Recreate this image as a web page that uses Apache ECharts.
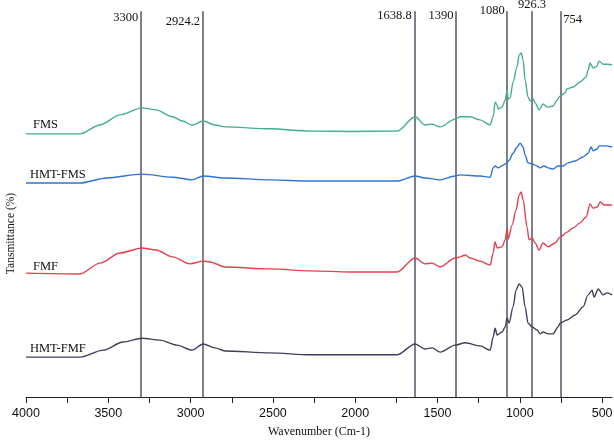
<!DOCTYPE html>
<html>
<head>
<meta charset="utf-8">
<script src="https://cdn.jsdelivr.net/npm/echarts@6/dist/echarts.min.js"></script>
<style>html,body{margin:0;padding:0;background:#fff}#c{width:614px;height:444px}</style>
</head>
<body>
<div id="c"></div>
<script>
const seriesNames = ['FMS', 'HMT-FMS', 'FMF', 'HMT-FMF'];
const seriesColors = ['#45ae8b', '#2f72d8', '#e3404f', '#3e4058'];

const fmsWn = [4000,3672,3550,3429,3295,3210,3110,3050,2991,2924,2852,2791,2517,2274,2031,1746,1636,1576,1533,1484,1393,1363,1302,1241,1180,1162,1150,1138,1132,1108,1089,1077,1071,1059,1041,1017,1004,992,980,968,950,938,919,907,883,859,834,798,774,755,725,713,676,634,597,585,573,555,536,518,494,464,440];
const fmsT = [68.0,68.0,70.3,72.9,74.7,74.2,72.4,71.3,70.3,71.3,70.3,69.8,69.3,68.7,68.6,68.7,72.4,70.3,70.5,69.8,71.8,72.4,72.4,71.6,70.3,72.4,76.2,75.5,74.4,74.9,76.7,79.3,77.0,77.3,81.4,85.3,88.4,88.9,87.1,81.9,77.5,76.5,77.0,76.0,74.2,75.7,74.9,75.2,76.7,77.8,78.6,79.6,80.1,81.4,82.7,84.5,86.3,85.0,85.3,86.8,86.0,86.0,85.8];

const hmtFmsWn = [4000,3672,3510,3295,3110,2991,2924,2791,2517,2274,2031,1746,1636,1576,1484,1393,1363,1241,1180,1162,1150,1132,1102,1077,1065,1041,1017,998,980,968,950,925,895,877,853,828,798,768,737,707,664,616,585,567,555,530,518,482,440];
const hmtFmsT = [55.3,55.3,56.6,57.6,56.8,56.1,57.1,56.6,56.1,55.8,55.8,55.8,57.1,56.6,56.1,57.1,57.4,57.1,56.8,59.2,59.7,59.2,59.9,60.5,61.2,63.0,64.6,65.6,64.6,62.5,60.5,60.2,59.7,59.2,59.7,59.2,58.9,59.7,59.7,60.5,61.0,62.0,63.0,64.6,63.6,64.1,64.9,64.9,64.6];

const fmfWn = [4000,3672,3550,3429,3295,3210,3110,3003,2924,2882,2791,2517,2274,2031,1746,1636,1576,1533,1484,1393,1363,1332,1302,1241,1180,1162,1150,1138,1108,1089,1077,1071,1047,1023,1004,992,980,956,944,925,907,883,859,828,786,755,713,676,634,597,573,555,530,512,488,440];
const fmfT = [32.0,31.8,34.6,37.2,38.5,38.0,36.2,34.4,35.1,34.9,33.6,33.1,32.6,32.3,32.3,35.9,34.4,34.6,33.6,35.9,36.2,36.7,35.9,35.1,34.1,37.2,40.1,38.5,38.8,40.6,43.4,40.8,44.4,48.3,52.2,53.0,50.9,43.9,40.6,41.1,39.8,38.0,39.8,38.8,39.8,41.3,42.6,43.7,45.0,46.5,49.9,48.8,49.1,50.4,49.6,49.6];

const hmtFmfWn = [4000,3672,3530,3410,3295,3186,3083,2991,2924,2852,2791,2517,2274,2031,1746,1636,1576,1533,1484,1393,1332,1241,1180,1162,1150,1138,1108,1089,1077,1065,1041,1023,1004,986,968,950,925,895,877,859,828,798,768,755,713,664,616,585,561,549,524,494,470,440];
const hmtFmfT = [10.3,10.3,12.1,14.2,15.2,14.7,13.4,12.1,13.7,12.7,11.9,11.4,10.9,10.9,10.9,13.7,12.4,12.7,11.6,13.4,14.0,13.2,12.1,15.5,17.8,16.0,16.8,18.1,20.4,19.1,23.3,27.6,29.2,28.4,23.3,19.1,18.1,17.3,16.3,16.8,16.3,16.3,18.1,19.1,19.9,21.2,23.3,26.4,27.6,25.8,27.9,26.4,26.9,26.4];

const peakWn = [3300, 2924.2, 1638.8, 1390, 1080, 926.3, 754];
const peakLabels = ['3300', '2924.2', '1638.8', '1390', '1080', '926.3', '754'];
const xTickLabels = [4000, 3500, 3000, 2500, 2000, 1500, 1000, 500];
const xMinorTicks = [4000, 3750, 3500, 3250, 3000, 2750, 2500, 2250, 2000, 1750, 1500, 1250, 1000, 750, 500];

const allWn = [fmsWn, hmtFmsWn, fmfWn, hmtFmfWn];
const allT = [fmsT, hmtFmsT, fmfT, hmtFmfT];

const serif = '"Liberation Serif", "DejaVu Serif", serif';
const lineTop = 99.7;
const peakLabelStyle = [
  {distance: -7, align: 'right', padding: [0, 3, 0, 0]},
  {distance: -11, align: 'right', padding: [0, 3, 0, 0]},
  {distance: -5, align: 'right', padding: [0, 3, 0, 0]},
  {distance: -5, align: 'right', padding: [0, 2, 0, 0]},
  {distance: 0, align: 'right', padding: [0, 2, 0, 0]},
  {distance: 6, align: 'center', padding: [0, 0, 0, 0]},
  {distance: -9, align: 'left', padding: [0, 0, 0, 3]}
];
const nameLabelPos = [[7, -9], [4, -8], [7, -6], [4, -8]];

const series = seriesNames.map((name, i) => {
  const s = {
    name: name,
    type: 'line',
    data: allWn[i].map((w, j) => [w, allT[i][j]]),
    showSymbol: false,
    smooth: 0.3,
    smoothMonotone: 'x',
    lineStyle: {color: seriesColors[i], width: 1.4},
    itemStyle: {color: seriesColors[i]},
    z: 3,
    markPoint: {
      silent: true,
      symbol: 'circle',
      symbolSize: 0.1,
      itemStyle: {color: 'rgba(0,0,0,0)'},
      data: [{coord: [allWn[i][0], allT[i][0]]}],
      label: {
        show: true,
        formatter: name,
        position: nameLabelPos[i],
        align: 'left',
        verticalAlign: 'middle',
        color: '#111',
        fontFamily: serif,
        fontSize: 12.5
      }
    }
  };
  if (i === 0) {
    s.markLine = {
      silent: true,
      symbol: ['none', 'none'],
      animation: false,
      z: 2,
      lineStyle: {color: '#505665', width: 1.5, type: 'solid'},
      data: peakWn.map((w, k) => [
        {
          coord: [w, 0],
          label: {
            show: true,
            position: 'end',
            formatter: peakLabels[k],
            distance: peakLabelStyle[k].distance,
            align: peakLabelStyle[k].align,
            verticalAlign: 'middle',
            padding: peakLabelStyle[k].padding,
            color: '#111',
            fontFamily: serif,
            fontSize: 12.5
          }
        },
        {coord: [w, lineTop]}
      ])
    };
  }
  return s;
});

const chart = echarts.init(document.getElementById('c'));
chart.setOption({
  animation: false,
  backgroundColor: '#fff',
  grid: {left: 26, right: 2, top: 10, bottom: 47, containLabel: false, outerBoundsMode: 'none'},
  xAxis: {
    type: 'value',
    min: 440,
    max: 4000,
    inverse: true,
    name: 'Wavenumber (Cm-1)',
    nameLocation: 'middle',
    nameGap: 29,
    nameTextStyle: {fontFamily: serif, fontSize: 12, color: '#111'},
    axisLine: {show: true, onZero: false, lineStyle: {color: '#222', width: 1}},
    axisTick: {show: true, inside: false, length: 6, customValues: xMinorTicks, lineStyle: {color: '#222'}},
    axisLabel: {
      customValues: xTickLabels,
      formatter: v => String(v),
      margin: 10,
      fontFamily: 'Arial, "Liberation Sans", sans-serif',
      fontSize: 12.5,
      color: '#111'
    },
    splitLine: {show: false}
  },
  yAxis: {
    type: 'value',
    min: 0,
    max: 100,
    name: 'Tansmittance (%)',
    nameLocation: 'middle',
    nameRotate: 90,
    nameGap: 9,
    nameTextStyle: {fontFamily: serif, fontSize: 11.5, color: '#111', padding: [0, 60, 0, 0]},
    axisLine: {show: false},
    axisTick: {show: false},
    axisLabel: {show: false},
    splitLine: {show: false}
  },
  series: series
});
</script>
</body>
</html>
